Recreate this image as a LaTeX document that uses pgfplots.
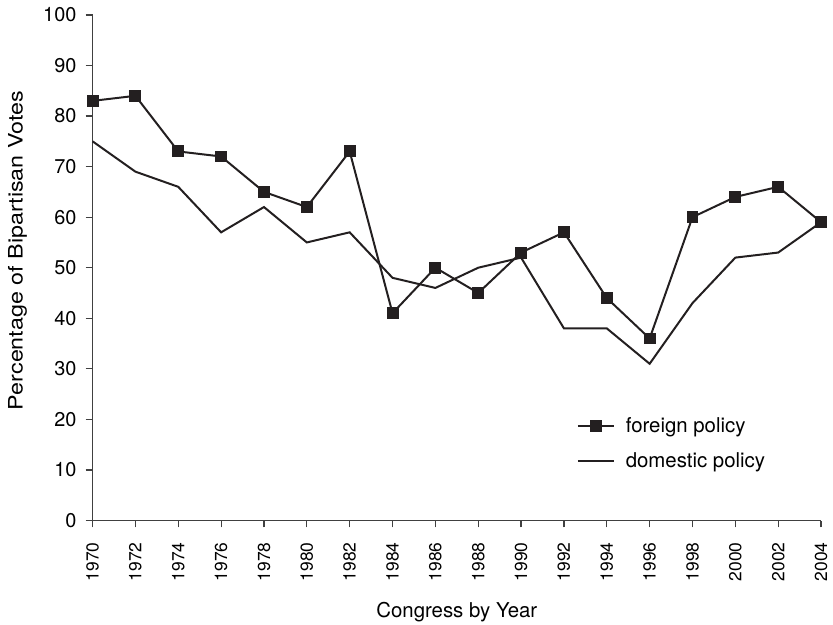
\documentclass[border=0pt]{standalone}
\usepackage{pgfplots}
\pgfplotsset{compat=1.18}
\usepackage{fontspec}
\setmainfont{TeX Gyre Heros}
\definecolor{ink}{RGB}{35,31,32}

\begin{document}
\begin{tikzpicture}
\begin{axis}[
    scale only axis,
    width=732pt, height=508pt,
    xmin=1970, xmax=2004,
    ymin=0, ymax=100,
    axis lines=left,
    axis line style={-, line width=1.2pt, black!75},
    xtick={1970,1972,...,2004},
    ytick={0,10,...,100},
    tick style={line width=1.2pt, black!75},
    tick align=outside,
    major tick length=7pt,
    xticklabel={\pgfmathprintnumber[1000 sep={}]{\tick}},
    /pgf/number format/assume math mode=true,
    x tick label style={rotate=90, anchor=east, inner sep=0pt, font=\fontsize{17.5pt}{20pt}\selectfont},
    y tick label style={anchor=east, inner sep=0pt, font=\fontsize{20pt}{23pt}\selectfont},
    xticklabel shift=15pt,
    yticklabel shift=9pt,
    xlabel={Congress by Year},
    ylabel={\scalebox{1.17}[1]{Percentage of Bipartisan Votes}},
    label style={font=\fontsize{20pt}{24pt}\selectfont, inner sep=0pt},
    xlabel style={at={([yshift=-97pt]axis description cs:0.5,0)}, anchor=base, font=\fontsize{20.5pt}{24pt}\selectfont},
    ylabel style={at={([xshift=-85pt]axis description cs:0,0.534)}, anchor=north},
    clip=false,
    legend style={at={(axis cs:1992.6,20.6)}, anchor=north west, draw=none, fill=none,
        font=\fontsize{20.5pt}{24pt}\selectfont, row sep=17pt, column sep=10pt, inner sep=0pt,
        nodes={inner sep=1pt}},
    legend cell align=left,
    legend image code/.code={\draw[mark repeat=2,mark phase=2] plot coordinates {(0pt,0pt)(18pt,0pt)(36pt,0pt)};},
]
\addplot[line width=2pt, ink, mark=square*, mark size=5.5pt, mark options={solid, line width=0pt, fill=ink}] coordinates {
(1970,83) (1972,84) (1974,73) (1976,72) (1978,65) (1980,62) (1982,73) (1984,41) (1986,50)
(1988,45) (1990,53) (1992,57) (1994,44) (1996,36) (1998,60) (2000,64) (2002,66) (2004,59)
};
\addlegendentry{foreign policy}
\addplot[line width=2pt, ink] coordinates {
(1970,75) (1972,69) (1974,66) (1976,57) (1978,62) (1980,55) (1982,57) (1984,48) (1986,46)
(1988,50) (1990,52) (1992,38) (1994,38) (1996,31) (1998,43) (2000,52) (2002,53) (2004,59)
};
\addlegendentry{domestic policy}
\end{axis}
\pgfresetboundingbox
\path[use as bounding box] ([shift={(-93pt,-104pt)}]current axis.south west) rectangle ++(837pt,627pt);
\end{tikzpicture}
\end{document}
